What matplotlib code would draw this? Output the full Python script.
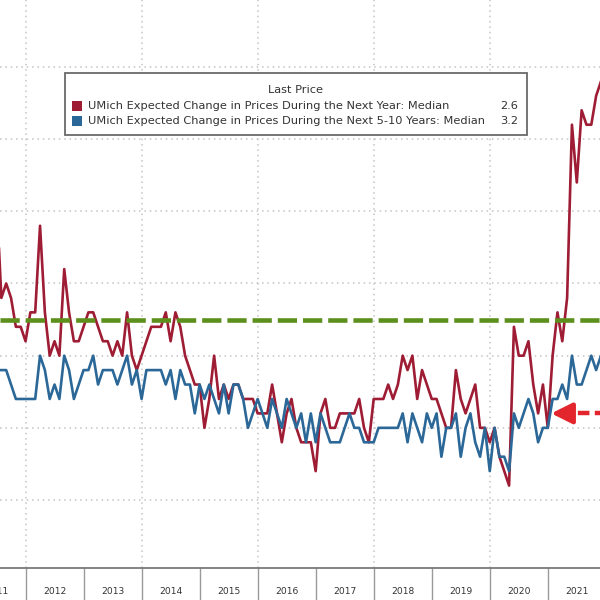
import numpy as np
import pandas as pd
import matplotlib.pyplot as plt
from matplotlib.patches import Rectangle

# monthly medians, first value = June 2011
one_year = [4.1, 3.4, 3.5, 3.4, 3.2, 3.2, 3.1, 3.3, 3.3, 3.9, 3.3, 3.0,
            3.1, 3.0, 3.6, 3.3, 3.1, 3.1, 3.2, 3.3, 3.3, 3.2, 3.1, 3.1,
            3.0, 3.1, 3.0, 3.3, 3.0, 2.9, 3.0, 3.1, 3.2, 3.2, 3.2, 3.3,
            3.1, 3.3, 3.2, 3.0, 2.9, 2.8, 2.8, 2.5, 2.7, 3.0, 2.7, 2.8,
            2.7, 2.8, 2.8, 2.7, 2.7, 2.7, 2.6, 2.6, 2.6, 2.8, 2.6, 2.4,
            2.6, 2.7, 2.5, 2.4, 2.4, 2.4, 2.2, 2.6, 2.7, 2.5, 2.5, 2.6,
            2.6, 2.6, 2.6, 2.7, 2.5, 2.4, 2.7, 2.7, 2.7, 2.8, 2.7, 2.8,
            3.0, 2.9, 3.0, 2.7, 2.9, 2.8, 2.7, 2.7, 2.6, 2.5, 2.5, 2.9,
            2.7, 2.6, 2.7, 2.8, 2.5, 2.5, 2.4, 2.5, 2.3, 2.2, 2.1, 3.2,
            3.0, 3.0, 3.1, 2.8, 2.6, 2.8, 2.5, 3.0, 3.3, 3.1, 3.4, 4.6,
            4.2, 4.7, 4.6, 4.6, 4.8, 4.9]
five_ten = [2.9, 2.9, 2.9, 2.8, 2.7, 2.7, 2.7, 2.7, 2.7, 3.0, 2.9, 2.7,
            2.8, 2.7, 3.0, 2.9, 2.7, 2.8, 2.9, 2.9, 3.0, 2.8, 2.9, 2.9,
            2.9, 2.8, 2.9, 3.0, 2.8, 2.9, 2.7, 2.9, 2.9, 2.9, 2.9, 2.8,
            2.9, 2.7, 2.9, 2.8, 2.8, 2.6, 2.8, 2.7, 2.8, 2.7, 2.6, 2.8,
            2.6, 2.8, 2.8, 2.7, 2.5, 2.6, 2.7, 2.6, 2.5, 2.7, 2.6, 2.5,
            2.7, 2.6, 2.5, 2.6, 2.4, 2.6, 2.4, 2.6, 2.5, 2.4, 2.4, 2.4,
            2.5, 2.6, 2.5, 2.5, 2.4, 2.4, 2.4, 2.5, 2.5, 2.5, 2.5, 2.5,
            2.6, 2.4, 2.6, 2.5, 2.4, 2.6, 2.5, 2.6, 2.3, 2.5, 2.5, 2.6,
            2.3, 2.5, 2.6, 2.4, 2.3, 2.5, 2.2, 2.5, 2.3, 2.3, 2.2, 2.6,
            2.5, 2.6, 2.7, 2.6, 2.4, 2.5, 2.5, 2.7, 2.7, 2.8, 2.7, 3.0,
            2.8, 2.8, 2.9, 3.0, 2.9, 3.0]
years = list(range(2011, 2022))
labels = ["UMich Expected Change in Prices During the Next Year: Median",
          "UMich Expected Change in Prices During the Next 5-10 Years: Median"]
last_price = ["2.6", "3.2"]
level_line = 3.25
arrow_level = 2.6

RED = '#9e1c34'
BLUE = '#2b6898'
GREEN = '#5c8f1c'
ARROW = '#e3262d'

# monthly points sit at month end
dates = pd.date_range('2011-06-01', periods=len(one_year), freq='MS')
t = dates.year + dates.month / 12.0

fig = plt.figure(figsize=(6, 6), dpi=100)
ax = fig.add_axes([0, 32 / 600, 1, 1 - 32 / 600])
ax.set_xlim(2011.56, 2021.90)
ax.set_ylim(1.529, 5.464)

# dotted grid
for v in np.arange(2.0, 5.01, 0.5):
    ax.axhline(v, color='#c4c4c4', lw=1.1, ls=(0, (1, 2.5)), zorder=0)
for yr in years[1::2]:
    ax.axvline(yr, color='#c4c4c4', lw=1.1, ls=(0, (1, 2.5)), zorder=0)

ax.plot(t, one_year, color=RED, lw=1.9, zorder=3)
ax.plot(t, five_ten, color=BLUE, lw=1.9, zorder=4)

ax.axhline(level_line, color=GREEN, lw=3.3, dashes=(4.2, 1.3), zorder=5)

# red dashed arrow on the right
ax.plot([2021.22, 2022.0], [arrow_level, arrow_level], color=ARROW, lw=3.2,
        dashes=(2.6, 1.2), zorder=6, solid_capstyle='butt')
ax.annotate('', xy=(2021.06, arrow_level), xytext=(2021.3, arrow_level),
            arrowprops=dict(arrowstyle='-|>,head_length=0.9,head_width=0.45',
                            color=ARROW, lw=3.2, shrinkA=0, shrinkB=0,
                            mutation_scale=14), zorder=6)

for s in ['top', 'left', 'right']:
    ax.spines[s].set_visible(False)
ax.spines['bottom'].set_color('#7a7a7a')
ax.spines['bottom'].set_linewidth(1.3)
ax.set_xticks([])
ax.set_yticks([])

# year band under the axis
xt = ax.get_xaxis_transform()
for yr in years:
    ax.plot([yr, yr], [0, -0.07], transform=xt, color='#9a9a9a', lw=1.0,
            clip_on=False)
    ax.text(yr + 0.5, -0.041, str(yr), transform=xt, ha='center', va='center',
            fontsize=6.6, color='#333333', clip_on=False)

# legend box
px = lambda v: v / 600.0
fig.patches.append(Rectangle((px(65), 1 - px(135)), px(462), px(62),
                             transform=fig.transFigure, facecolor='white',
                             edgecolor='#6a6a6a', lw=1.3, zorder=10))
fig.text(px(295), 1 - px(90), "Last Price", ha='center', va='center',
         fontsize=8.2, color='#333333', zorder=11)
for i, (lab, val, col) in enumerate(zip(labels, last_price, [RED, BLUE])):
    yc = 106 + 15 * i
    fig.patches.append(Rectangle((px(72), 1 - px(yc + 5)), px(10), px(10),
                                 transform=fig.transFigure, facecolor=col,
                                 edgecolor='none', zorder=11))
    fig.text(px(88), 1 - px(yc), lab, ha='left', va='center', fontsize=8.2,
             color='#333333', zorder=11)
    fig.text(px(518), 1 - px(yc), val, ha='right', va='center', fontsize=8.2,
             color='#333333', zorder=11)

fig.savefig('out.png', dpi=100)
